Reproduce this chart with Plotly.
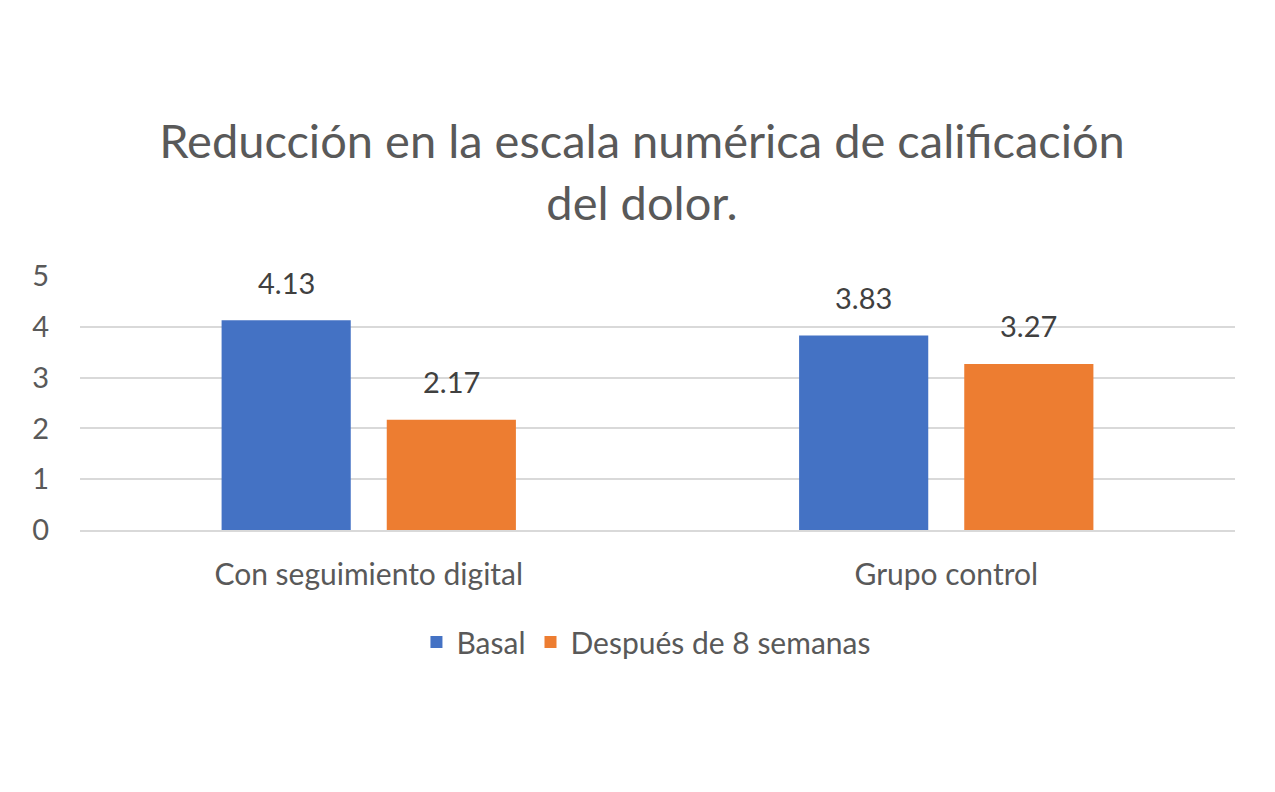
import plotly.graph_objects as go

categories = ["Con seguimiento digital", "Grupo control"]
basal = [4.13, 3.83]
despues = [2.17, 3.27]
series_names = ["Basal", "Después de 8 semanas"]

colors = {"Basal": "#4472C4", "Despues": "#ED7D31"}
text_color = "#595959"
font_family = "Lato, Open Sans, sans-serif"

fig = go.Figure()

fig.add_trace(go.Bar(
    x=categories, y=basal, name=series_names[0],
    marker=dict(color=colors["Basal"], line=dict(width=0)),
))
fig.add_trace(go.Bar(
    x=categories, y=despues, name=series_names[1],
    marker=dict(color=colors["Despues"], line=dict(width=0)),
))

# value labels above the bars, shifted to each bar's slot
for vals, shift in [(basal, -82.5), (despues, 82.5)]:
    for cat, v in zip(categories, vals):
        fig.add_annotation(
            x=cat, y=v, text=f"{v:.2f}",
            showarrow=False, xshift=shift, yshift=38,
            font=dict(size=29, color="#404040", family=font_family),
        )

fig.update_layout(
    width=1275, height=792,
    margin=dict(l=72, r=48, t=268, b=270),
    paper_bgcolor="white", plot_bgcolor="white",
    font=dict(family=font_family, color=text_color, size=29),
    title=dict(
        text="Reducción en la escala numérica de calificación<br>del dolor.",
        x=634 / 1275, xanchor="center", y=0.81, yanchor="middle",
        font=dict(size=47, color=text_color, family=font_family),
    ),
    barmode="group", bargap=0.428, bargroupgap=0.218,
    showlegend=True,
    legend=dict(
        orientation="h", x=0.49, xanchor="center", y=-0.441, yanchor="middle",
        font=dict(size=30, color=text_color), itemwidth=30,
        traceorder="normal",
    ),
    xaxis=dict(
        showgrid=False, showline=True, linecolor="#D9D9D9", linewidth=1.5,
        ticks="", ticklabelstandoff=17,
        tickfont=dict(size=30, color=text_color),
    ),
    yaxis=dict(
        range=[0, 5], dtick=1, showgrid=True, gridcolor="#D9D9D9", gridwidth=1.5,
        zeroline=False, showline=False, ticks="", ticklabelstandoff=30,
        tickfont=dict(size=29, color=text_color),
    ),
)

fig.write_html("out.html")
